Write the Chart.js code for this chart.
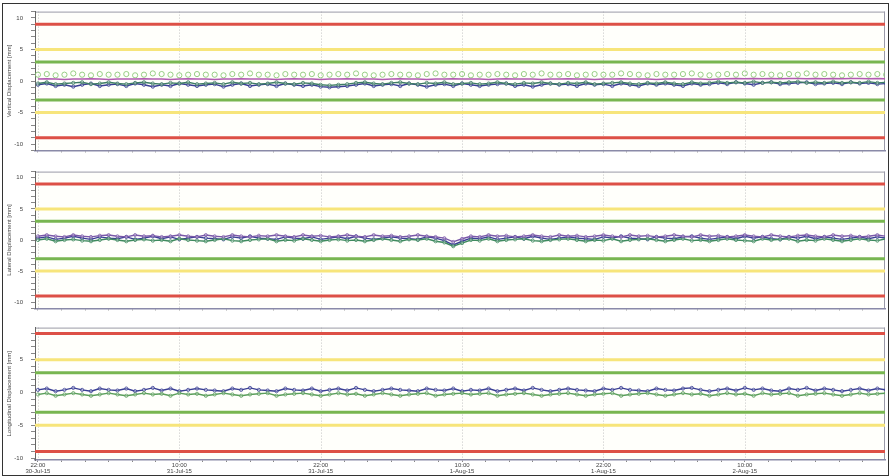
<!DOCTYPE html>
<html><head><meta charset="utf-8">
<script src="https://cdn.jsdelivr.net/npm/chart.js@4.4.1/dist/chart.umd.min.js"></script>
<style>
html,body{margin:0;padding:0;background:#fff;}
#wrap{position:relative;width:893px;height:476px;overflow:hidden;background:#fff;}
canvas{position:absolute;left:0;}
#frame{position:absolute;left:2px;top:3px;width:885px;height:471px;border:1px solid #333;pointer-events:none;}
</style></head><body>
<div id="wrap">
<canvas id="c1" width="893" height="162" style="top:0px"></canvas>
<canvas id="c2" width="893" height="160" style="top:160px"></canvas>
<canvas id="c3" width="893" height="160" style="top:316px"></canvas>
<div id="frame"></div>
</div>
<script>
// ---- categories / ticks ----
const sampleStartHour = 0;      // 22:00 30-Jul-15
const sampleStepHours = 0.75;
const xMin = -0.25, xMax = 71.9;
const xTickLabels = [
  ['22:00','30-Jul-15'], ['10:00','31-Jul-15'], ['22:00','31-Jul-15'],
  ['10:00','1-Aug-15'], ['22:00','1-Aug-15'], ['10:00','2-Aug-15'], ['22:00','2-Aug-15']
];
const yTitles = ['Vertical Displacement [mm]','Lateral Displacement [mm]','Longitudinal Displacement [mm]'];
const yMajorLabels = [-10,-5,0,5,10];
const thresholdRed = [9,-9];
const thresholdYellow = [5,-5];
const thresholdGreen = [3,-3];

// ---- panel 1: vertical ----
const p1Green = [1.0,1.1,0.9,1.0,1.2,1.0,0.9,1.1,1.0,1.0,
1.1,0.9,1.0,1.2,1.1,1.0,0.9,1.0,1.1,1.0,
1.0,0.9,1.1,1.0,1.2,1.0,1.0,0.9,1.1,1.0,
1.0,1.1,0.9,1.0,1.1,1.0,1.2,1.0,0.9,1.0,
1.1,1.0,1.0,0.9,1.1,1.2,1.0,1.0,1.1,0.9,
1.0,1.0,1.1,1.0,0.9,1.1,1.0,1.2,1.0,1.0,
1.1,0.9,1.0,1.1,1.0,1.0,1.2,1.1,1.0,0.9,
1.1,1.0,1.0,1.1,1.2,1.0,0.9,1.0,1.1,1.0,
1.2,1.0,1.1,1.0,0.9,1.1,1.0,1.2,1.0,1.1,
1.0,0.9,1.0,1.1,1.0,1.1,1.0];
const p1Purple = [0.3,0.35,0.3,0.25,0.3,0.3,0.35,0.3,0.25,0.3,
0.3,0.3,0.35,0.3,0.3,0.25,0.3,0.35,0.3,0.3,
0.25,0.3,0.3,0.35,0.3,0.3,0.3,0.25,0.3,0.35,
0.3,0.3,0.25,0.3,0.3,0.35,0.3,0.3,0.3,0.25,
0.3,0.35,0.3,0.3,0.25,0.3,0.3,0.35,0.3,0.3,
0.3,0.25,0.3,0.35,0.3,0.3,0.3,0.25,0.3,0.3,
0.35,0.3,0.3,0.25,0.3,0.3,0.35,0.3,0.3,0.3,
0.25,0.3,0.35,0.3,0.3,0.3,0.25,0.3,0.35,0.4,
0.35,0.4,0.35,0.4,0.35,0.4,0.4,0.35,0.4,0.35,
0.4,0.35,0.4,0.4,0.35,0.4,0.35];
const p1Blue = [-0.6,-0.4,-0.8,-0.6,-0.9,-0.6,-0.4,-0.8,-0.6,-0.5,
-0.8,-0.4,-0.6,-0.9,-0.6,-0.8,-0.4,-0.6,-0.8,-0.6,
-0.5,-0.9,-0.6,-0.4,-0.8,-0.6,-0.5,-0.8,-0.4,-0.6,
-0.8,-0.6,-0.9,-1.0,-0.9,-0.8,-0.6,-0.4,-0.8,-0.6,
-0.5,-0.8,-0.4,-0.6,-0.9,-0.6,-0.5,-0.8,-0.4,-0.6,
-0.8,-0.6,-0.5,-0.4,-0.8,-0.6,-0.9,-0.6,-0.4,-0.6,
-0.5,-0.8,-0.4,-0.6,-0.5,-0.8,-0.4,-0.6,-0.8,-0.4,
-0.6,-0.4,-0.6,-0.8,-0.4,-0.6,-0.5,-0.3,-0.5,-0.2,
-0.4,-0.6,-0.3,-0.2,-0.5,-0.4,-0.3,-0.2,-0.5,-0.4,
-0.3,-0.5,-0.2,-0.4,-0.3,-0.5,-0.4];
const p1Teal = [-0.4,-0.2,-0.5,-0.4,-0.3,-0.2,-0.5,-0.4,-0.2,-0.4,
-0.5,-0.3,-0.2,-0.4,-0.5,-0.3,-0.4,-0.2,-0.5,-0.4,
-0.3,-0.5,-0.2,-0.4,-0.3,-0.5,-0.4,-0.2,-0.4,-0.5,
-0.3,-0.4,-0.6,-0.7,-0.6,-0.5,-0.3,-0.2,-0.4,-0.5,
-0.3,-0.2,-0.4,-0.5,-0.3,-0.4,-0.2,-0.5,-0.4,-0.3,
-0.5,-0.4,-0.2,-0.4,-0.5,-0.3,-0.4,-0.2,-0.4,-0.5,
-0.3,-0.4,-0.2,-0.5,-0.4,-0.3,-0.2,-0.4,-0.5,-0.3,
-0.4,-0.2,-0.4,-0.5,-0.2,-0.4,-0.3,-0.1,-0.3,-0.2,
-0.3,-0.1,-0.3,-0.2,-0.3,-0.2,-0.1,-0.3,-0.2,-0.3,
-0.1,-0.3,-0.2,-0.3,-0.1,-0.3,-0.2];

// ---- panel 2: lateral ----
const p2Blue = [0.3,0.5,0.1,0.3,0.6,0.3,0.1,0.5,0.3,0.2,
0.5,0.1,0.3,0.6,0.2,0.5,0.1,0.3,0.5,0.3,
0.2,0.1,0.5,0.3,0.6,0.3,0.2,0.1,0.5,0.3,
0.2,0.5,0.1,0.3,0.5,0.2,0.6,0.3,0.1,0.3,
0.5,0.3,0.2,0.1,0.5,0.3,-0.1,-0.8,-0.2,0.3,
0.2,0.5,0.1,0.3,0.5,0.2,0.6,0.3,0.1,0.3,
0.5,0.3,0.2,0.1,0.5,0.3,0.6,0.3,0.2,0.1,
0.5,0.3,0.2,0.5,0.6,0.3,0.1,0.3,0.5,0.2,
0.6,0.3,0.5,0.2,0.1,0.5,0.3,0.6,0.2,0.5,
0.3,0.1,0.3,0.5,0.2,0.5,0.3];
const p2Purple = [0.6,0.8,0.6,0.5,0.8,0.6,0.5,0.7,0.8,0.6,
0.5,0.8,0.6,0.7,0.5,0.6,0.8,0.6,0.5,0.8,
0.6,0.5,0.8,0.6,0.5,0.7,0.6,0.8,0.6,0.5,
0.8,0.6,0.7,0.5,0.6,0.8,0.6,0.5,0.8,0.6,
0.7,0.5,0.6,0.8,0.6,0.5,0.3,-0.3,0.2,0.6,
0.5,0.8,0.6,0.7,0.5,0.6,0.8,0.6,0.5,0.8,
0.6,0.7,0.5,0.6,0.8,0.6,0.5,0.8,0.6,0.7,
0.5,0.6,0.8,0.6,0.5,0.8,0.6,0.7,0.5,0.6,
0.8,0.6,0.5,0.8,0.6,0.5,0.7,0.8,0.6,0.5,
0.8,0.6,0.7,0.5,0.6,0.8,0.6];
const p2Green = [0.0,0.2,-0.2,0.0,0.1,-0.1,-0.2,0.0,0.2,0.0,
-0.2,0.0,0.1,-0.1,0.0,-0.2,0.2,0.0,-0.1,-0.2,
0.0,0.2,-0.1,-0.2,0.0,0.1,0.2,-0.2,0.0,-0.1,
0.2,0.0,-0.2,0.0,0.1,-0.1,0.0,-0.2,0.0,0.2,
0.0,-0.2,0.1,0.0,0.2,-0.2,-0.4,-1.0,-0.5,0.0,
-0.1,0.2,-0.2,0.0,0.1,0.2,-0.1,-0.2,0.0,0.1,
0.2,0.0,-0.2,0.0,-0.1,0.2,-0.2,0.0,0.1,0.2,
0.0,-0.2,0.0,0.2,-0.1,0.0,-0.2,0.0,0.2,0.0,
-0.1,-0.2,0.2,0.0,0.1,0.2,-0.2,0.0,-0.1,0.2,
0.0,-0.2,0.0,0.2,0.0,-0.1,0.2];

// ---- panel 3: longitudinal ----
const p3Blue = [0.4,0.6,0.2,0.4,0.7,0.4,0.2,0.6,0.4,0.3,
0.6,0.2,0.4,0.7,0.3,0.6,0.2,0.4,0.6,0.4,
0.3,0.2,0.6,0.4,0.7,0.4,0.3,0.2,0.6,0.4,
0.3,0.6,0.2,0.4,0.6,0.3,0.7,0.4,0.2,0.4,
0.6,0.4,0.3,0.2,0.6,0.4,0.3,0.6,0.2,0.4,
0.3,0.6,0.2,0.4,0.6,0.3,0.7,0.4,0.2,0.4,
0.6,0.4,0.3,0.2,0.6,0.4,0.7,0.4,0.3,0.2,
0.6,0.4,0.3,0.6,0.7,0.4,0.2,0.4,0.6,0.3,
0.7,0.4,0.6,0.3,0.2,0.6,0.4,0.7,0.3,0.6,
0.4,0.2,0.4,0.6,0.3,0.6,0.4];
const p3Green = [-0.3,-0.1,-0.5,-0.3,-0.1,-0.3,-0.5,-0.3,-0.1,-0.3,
-0.5,-0.3,-0.1,-0.3,-0.2,-0.5,-0.1,-0.3,-0.2,-0.5,
-0.3,-0.1,-0.3,-0.5,-0.3,-0.2,-0.1,-0.5,-0.3,-0.2,
-0.1,-0.3,-0.5,-0.3,-0.1,-0.3,-0.2,-0.5,-0.3,-0.1,
-0.3,-0.5,-0.3,-0.2,-0.1,-0.5,-0.3,-0.2,-0.1,-0.3,
-0.2,-0.1,-0.5,-0.3,-0.2,-0.1,-0.3,-0.5,-0.3,-0.2,
-0.1,-0.3,-0.5,-0.3,-0.2,-0.1,-0.5,-0.3,-0.2,-0.1,
-0.3,-0.5,-0.3,-0.1,-0.3,-0.2,-0.5,-0.3,-0.1,-0.3,
-0.2,-0.5,-0.1,-0.3,-0.2,-0.1,-0.5,-0.3,-0.2,-0.1,
-0.3,-0.5,-0.3,-0.1,-0.3,-0.2,-0.1];

const FONT = '"Liberation Sans", Arial, sans-serif';
function pts(arr){ return arr.map((v,i)=>({x: sampleStartHour + i*sampleStepHours, y: v})); }
function hline(v, color){
  return {data:[{x:xMin,y:v},{x:xMax,y:v}], borderColor:color, borderWidth:3, pointRadius:0, order:10, showLine:true};
}
function thresholds(){
  const out=[];
  thresholdRed.forEach(v=>out.push(hline(v,'#dd5046')));
  thresholdYellow.forEach(v=>out.push(hline(v,'#f7e57a')));
  thresholdGreen.forEach(v=>out.push(hline(v,'#78b650')));
  return out;
}
function rings(arr,color,r){
  return {data:pts(arr), showLine:false, pointRadius:r, pointBorderWidth:0.9,
    pointBackgroundColor:'rgba(0,0,0,0)', pointBorderColor:color, borderColor:color, order:1};
}
function band(arr,color,r){
  return {data:pts(arr), showLine:true, borderWidth:1.4, pointRadius:r, pointBorderWidth:0.8,
    pointBackgroundColor:'rgba(255,255,255,0.3)', pointBorderColor:color, borderColor:color, order:1};
}
function line(arr,color){
  return {data:pts(arr), showLine:true, borderColor:color, borderWidth:1.5, pointRadius:0, order:0};
}

const panelBg = {
  id:'panelBg',
  beforeDraw(chart){
    const {ctx, chartArea:a, scales:{x}} = chart;
    ctx.save();
    ctx.fillStyle='#fffffb';
    ctx.fillRect(a.left,a.top,a.right-a.left,a.bottom-a.top);
    ctx.strokeStyle='#c4c4c4'; ctx.lineWidth=1; ctx.setLineDash([1,2]);
    xTickLabels.forEach((lab,k)=>{
      const h = k*12; if (h>xMax) return;
      const px=Math.round(x.getPixelForValue(h))+0.5;
      ctx.beginPath(); ctx.moveTo(px,a.top); ctx.lineTo(px,a.bottom); ctx.stroke();
    });
    ctx.setLineDash([]);
    ctx.strokeStyle='#9a9aa8';
    ctx.beginPath(); ctx.moveTo(a.left,a.top+0.5); ctx.lineTo(a.right,a.top+0.5);
    ctx.moveTo(a.right-0.5,a.top); ctx.lineTo(a.right-0.5,a.bottom); ctx.stroke();
    ctx.restore();
  }
};

function makePanel(id, datasets, o){
  new Chart(document.getElementById(id), {
    type:'line',
    data:{datasets},
    plugins:[panelBg],
    options:{
      responsive:false, animation:false, devicePixelRatio:1,
      layout:{padding:{top:o.padTop, right:8, left:0, bottom:0}},
      plugins:{legend:{display:false}, tooltip:{enabled:false}},
      elements:{line:{tension:0}},
      scales:{
        x:{type:'linear', min:xMin, max:xMax,
          afterFit(s){ s.height=o.xH; },
          border:{color:'#8a8aa8', width:1.5},
          grid:{drawOnChartArea:false, drawTicks:true, tickLength:2, tickColor:'#888'},
          ticks:{display:o.showX, stepSize:2, autoSkip:false, maxRotation:0, minRotation:0, includeBounds:false,
            padding:0, color:'#444', font:{size:6, family:FONT, lineHeight:1},
            callback:(v)=> (v%12===0 && xTickLabels[v/12]) ? xTickLabels[v/12] : ''}
        },
        y:{type:'linear', min:o.yMin, max:o.yMax,
          afterFit(s){ s.width=35; },
          border:{color:'#666', width:1},
          grid:{drawOnChartArea:false, tickLength:4, tickColor:'#888'},
          ticks:{stepSize:1, autoSkip:false, includeBounds:false, padding:8, color:'#444',
            font:{size:6, family:FONT},
            callback:(v)=> yMajorLabels.includes(v) ? String(v) : ''},
          title:{display:true, text:o.title, color:'#444', font:{size:6, family:FONT}, padding:{top:6,bottom:0}}
        }
      }
    }
  });
}

makePanel('c1', [
  line(p1Purple,'#b25bb0'),
  rings(p1Green,'#8cc878',2.6),
  band(p1Teal,'#3d7d63',1.6),
  band(p1Blue,'#3a3f94',1.6),
  ...thresholds()
], {padTop:9, xH:3, showX:false, yMin:-11, yMax:11, title:yTitles[0]});

makePanel('c2', [
  band(p2Purple,'#7a58a8',1.5),
  band(p2Green,'#3f8a5e',1.6),
  band(p2Blue,'#3a3f94',1.6),
  ...thresholds()
], {padTop:2, xH:4, showX:false, yMin:-11, yMax:11, title:yTitles[1]});

makePanel('c3', [
  band(p3Green,'#5a9e5a',1.6),
  band(p3Blue,'#3a3f94',1.6),
  ...thresholds()
], {padTop:3, xH:16, showX:true, yMin:-10.3, yMax:9.9, title:yTitles[2]});
</script>
</body></html>
